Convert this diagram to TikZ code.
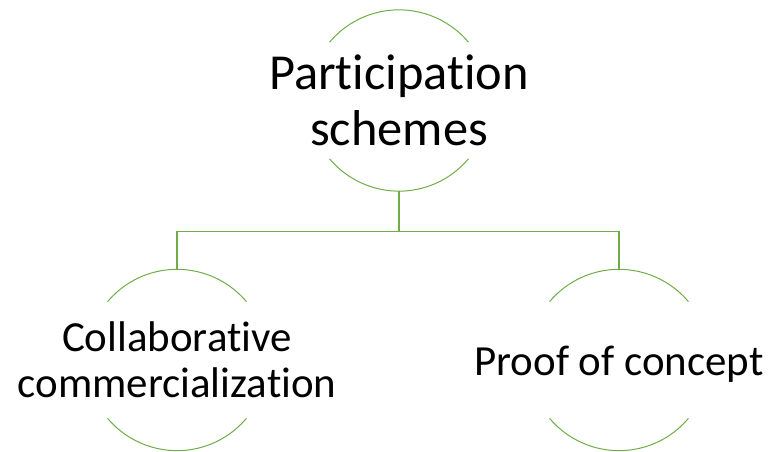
\documentclass[tikz,border=0pt]{standalone}
\usepackage{fontspec}
\setmainfont{Carlito}[RawFeature=-liga]
\definecolor{leafgreen}{HTML}{70AD47}

\begin{document}
\begin{tikzpicture}[
  x=0.75pt, y=0.75pt,
  ring/.style={circle, draw=none, inner sep=0pt, outer sep=0pt, minimum size=136pt},
  rootlabel/.style={align=center, font=\fontsize{37.8pt}{42pt}\selectfont},
  leaflabel/.style={align=center, font=\fontsize{32.2pt}{34.5pt}\selectfont},
  arcline/.style={draw=leafgreen, line width=0.75pt},
  link/.style={draw=leafgreen, line width=0.9pt}
]
  \useasboundingbox (0,0) rectangle (772,452);

  % Circles
  \node[ring] (root) at (399, 351.5) {};
  \node[ring] (collab) at (177, 92) {};
  \node[ring] (proof) at (619, 92) {};

  % Labels
  \node[rootlabel] (rootText) at (root) {Participation\\schemes};
  \node[leaflabel] (collabText) at (collab) {Collaborative\\commercialization};
  \node[leaflabel] (proofText) at ([yshift=-3]proof) {Proof of concept};

  % Arcs
  \foreach \c in {root, collab, proof} {
    \draw[arcline] (\c.40) arc[start angle=40, end angle=140, radius=68pt];
    \draw[arcline] (\c.220) arc[start angle=220, end angle=320, radius=68pt];
  }

  % Connectors
  \draw[link] (root.south) -- ++(0,-40.7) -| (collab.north);
  \draw[link] (root.south) -- ++(0,-40.7) -| (proof.north);
\end{tikzpicture}
\end{document}
